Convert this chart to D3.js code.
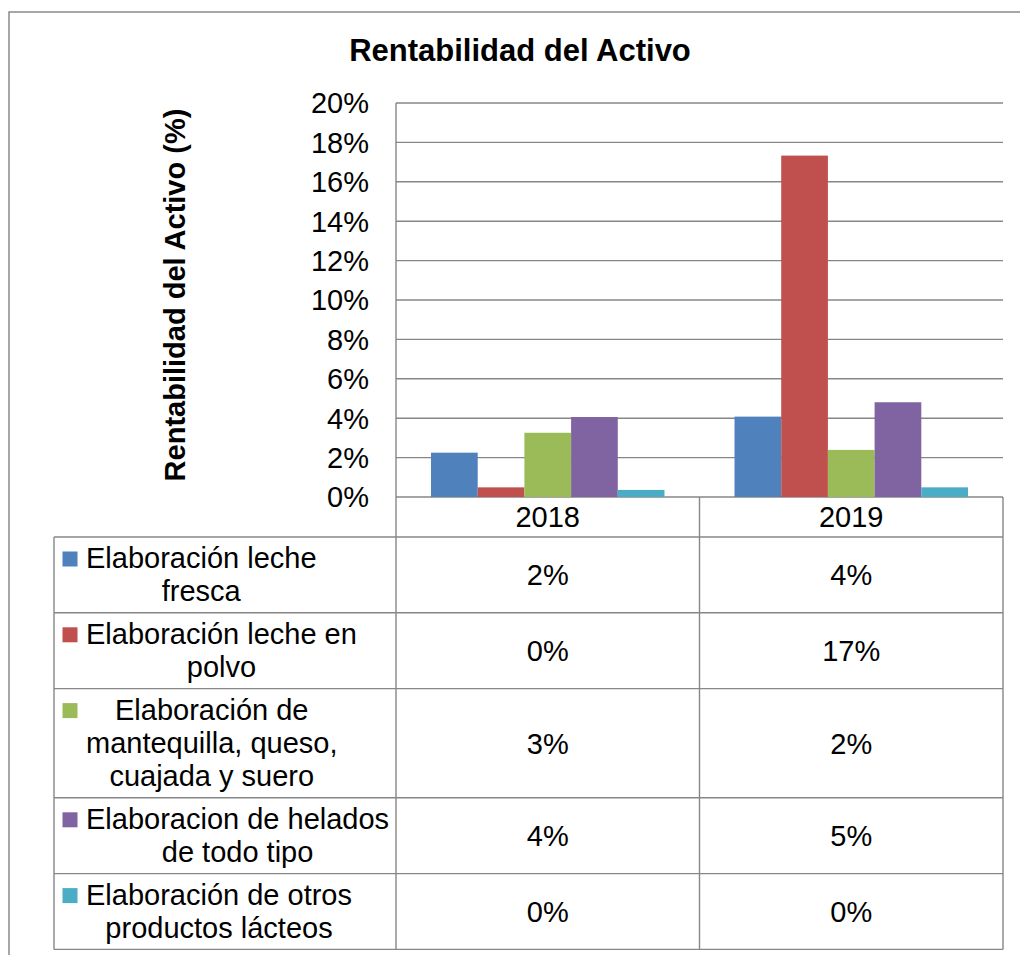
<!DOCTYPE html>
<html lang="es">
<head>
<meta charset="UTF-8">
<title>Rentabilidad del Activo</title>
<style>
  body{margin:0;background:#fff;}
  svg{display:block;font-family:"Liberation Sans",Arial,sans-serif;}
</style>
<script src="https://cdn.jsdelivr.net/npm/d3@7"></script>
</head>
<body>
<div id="chart"></div>
<script>
// datos
var years = ["2018", "2019"];
var seriesNames = [
    "Elaboración leche fresca",
    "Elaboración leche en polvo",
    "Elaboración de mantequilla, queso, cuajada y suero",
    "Elaboracion de helados de todo tipo",
    "Elaboración de otros productos lácteos"
];
var lecheFresca = [0.0225, 0.0408];
var lechePolvo = [0.0049, 0.1733];
var mantequilla = [0.0326, 0.0239];
var helados = [0.0406, 0.0481];
var otros = [0.0036, 0.0049];
var yTicks = [0, 0.02, 0.04, 0.06, 0.08, 0.10, 0.12, 0.14, 0.16, 0.18, 0.20];
var colors = ["#4f81bd", "#c0504d", "#9bbb59", "#8064a2", "#4bacc6"];

var series = [lecheFresca, lechePolvo, mantequilla, helados, otros].map(function(v, i){
    return {name: seriesNames[i], values: v, color: colors[i]};
});

var W = 1020, H = 955;
var pLeft = 396, pRight = 1003, pTop = 103, pBottom = 497;
var headBottom = 537, tableLeft = 54;
var lineH = 33.4, fs = 29;
var gridCol = "#878787";

var svg = d3.select("#chart").append("svg")
    .attr("width", W)
    .attr("height", H);

// marco exterior
svg.append("rect")
    .attr("x", 9).attr("y", 12)
    .attr("width", W).attr("height", H)
    .attr("fill", "none")
    .attr("stroke", "#8a8a8a")
    .attr("stroke-width", 1.5);

var x = d3.scaleBand().domain(years).range([pLeft, pRight]).padding(0);
var xs = d3.scaleBand().domain(d3.range(series.length))
    .range([0, x.bandwidth()]).paddingInner(0).paddingOuter(0.75);
var y = d3.scaleLinear().domain([0, 0.2]).range([pBottom, pTop]);
var pct = d3.format(".0%");

// lineas de division
svg.append("g").selectAll("line")
    .data(yTicks)
    .enter().append("line")
    .attr("x1", pLeft).attr("x2", pRight)
    .attr("y1", function(d){ return y(d); })
    .attr("y2", function(d){ return y(d); })
    .attr("stroke", gridCol)
    .attr("stroke-width", 1.4);

// etiquetas eje y
svg.append("g").selectAll("text")
    .data(yTicks)
    .enter().append("text")
    .attr("x", 369)
    .attr("y", function(d){ return y(d) + 10.4; })
    .attr("text-anchor", "end")
    .attr("font-size", fs)
    .text(function(d){ return pct(d); });

// barras
var groups = svg.append("g").selectAll("g")
    .data(series)
    .enter().append("g")
    .attr("fill", function(d){ return d.color; });
groups.selectAll("rect")
    .data(function(d, i){
        return d.values.map(function(v, j){ return {v: v, s: i, year: years[j]}; });
    })
    .enter().append("rect")
    .attr("x", function(d){ return x(d.year) + xs(d.s); })
    .attr("width", xs.bandwidth())
    .attr("y", function(d){ return y(d.v); })
    .attr("height", function(d){ return pBottom - y(d.v); });

// titulo
svg.append("text")
    .attr("x", 520).attr("y", 61)
    .attr("text-anchor", "middle")
    .attr("font-size", 31)
    .attr("font-weight", "bold")
    .text("Rentabilidad del Activo");

svg.append("text")
    .attr("transform", "translate(185,295) rotate(-90)")
    .attr("text-anchor", "middle")
    .attr("font-size", fs)
    .attr("font-weight", "bold")
    .text("Rentabilidad del Activo (%)");

// tabla de datos
var measure = svg.append("text").attr("font-size", fs).attr("visibility", "hidden");
function textW(s){ measure.text(s); return measure.node().getComputedTextLength(); }
function wrap(s, maxW){
    var words = s.split(" "), lines = [], cur = "";
    words.forEach(function(w){
        var t = cur ? cur + " " + w : w;
        if (cur && textW(t) > maxW) { lines.push(cur); cur = w; }
        else cur = t;
    });
    lines.push(cur);
    return lines;
}

var rowTop = headBottom;
series.forEach(function(s){
    s.lines = wrap(s.name, 310);
    s.top = rowTop;
    s.h = s.lines.length * lineH + 9;
    s.maxW = d3.max(s.lines, textW);
    rowTop += s.h;
});
measure.remove();
var tableBottom = rowTop;

// cabecera de categorias
svg.append("g").selectAll("text")
    .data(years)
    .enter().append("text")
    .attr("x", function(d){ return x(d) + x.bandwidth() / 2; })
    .attr("y", (pBottom + headBottom) / 2 + 10.4)
    .attr("text-anchor", "middle")
    .attr("font-size", fs)
    .text(function(d){ return d; });

var rows = svg.append("g").selectAll("g")
    .data(series)
    .enter().append("g");

rows.each(function(s){
    var g = d3.select(this);
    var first = s.top + s.h / 2 - (s.lines.length - 1) * lineH / 2 + 9.8;
    var cx = 86 + s.maxW / 2;
    g.append("rect")
        .attr("x", 62.5).attr("y", first - 16.5)
        .attr("width", 15).attr("height", 15)
        .attr("fill", s.color);
    g.selectAll("text.lab")
        .data(s.lines)
        .enter().append("text")
        .attr("class", "lab")
        .attr("x", cx)
        .attr("y", function(d, i){ return first + i * lineH; })
        .attr("text-anchor", "middle")
        .attr("font-size", fs)
        .text(function(d){ return d; });
    g.selectAll("text.val")
        .data(s.values)
        .enter().append("text")
        .attr("class", "val")
        .attr("x", function(d, j){ return x(years[j]) + x.bandwidth() / 2; })
        .attr("y", s.top + s.h / 2 + 10.4)
        .attr("text-anchor", "middle")
        .attr("font-size", fs)
        .text(function(d){ return pct(d); });
});

// bordes de la tabla
var hLines = [headBottom].concat(series.map(function(s){ return s.top + s.h; }));
svg.append("g").selectAll("line")
    .data(hLines)
    .enter().append("line")
    .attr("x1", tableLeft).attr("x2", pRight)
    .attr("y1", function(d){ return d; }).attr("y2", function(d){ return d; })
    .attr("stroke", gridCol).attr("stroke-width", 1.4);

var vLines = [
    {x: tableLeft, y1: headBottom},
    {x: pLeft, y1: pTop},
    {x: x("2019"), y1: pBottom},
    {x: pRight, y1: pBottom}
];
svg.append("g").selectAll("line")
    .data(vLines)
    .enter().append("line")
    .attr("x1", function(d){ return d.x; }).attr("x2", function(d){ return d.x; })
    .attr("y1", function(d){ return d.y1; }).attr("y2", tableBottom)
    .attr("stroke", gridCol).attr("stroke-width", 1.4);
</script>
</body>
</html>
